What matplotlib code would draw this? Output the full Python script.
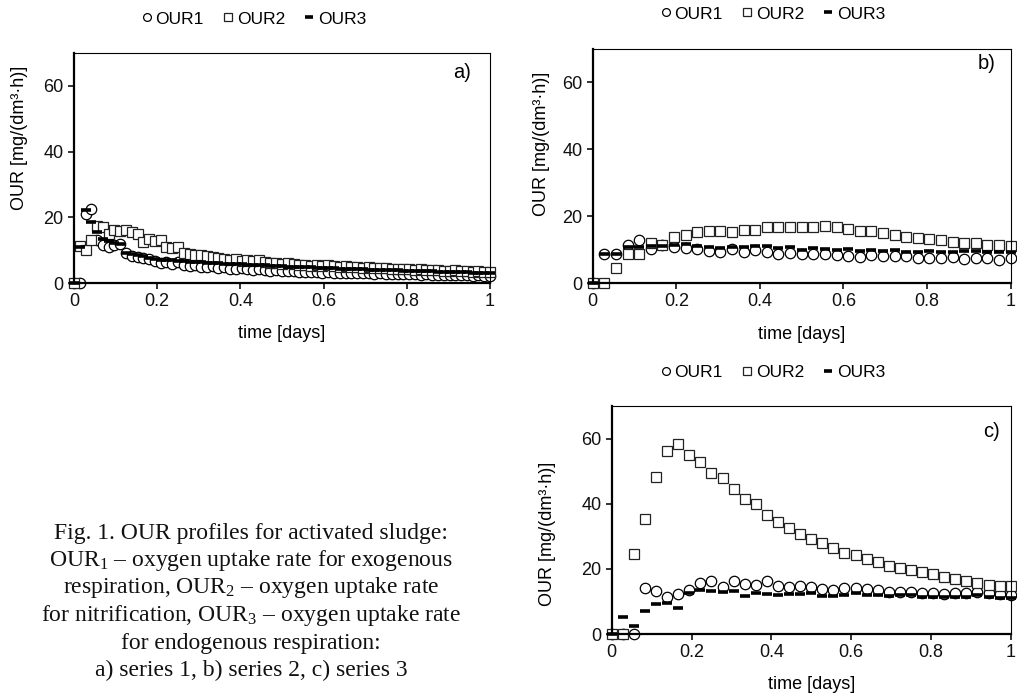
import numpy as np
import matplotlib.pyplot as plt

plt.rcParams['font.family'] = ['Liberation Sans', 'DejaVu Sans']
plt.rcParams['mathtext.fontset'] = 'custom'
plt.rcParams['mathtext.rm'] = 'Liberation Serif'

# series 1: every 20 min over one day
t_a = np.arange(73) / 72
our1_a = [0, 0, 21.0, 22.5, 13.0, 11.5, 11.0, 11.5, 12.0, 9.0, 8.2, 8.0, 7.6, 7.2, 6.8, 6.2,
          6.5, 5.8, 6.4, 5.6, 5.2, 5.5, 5.0, 4.8, 5.2, 4.6, 4.8, 4.4, 4.3, 4.5, 4.2, 4.1,
          4.2, 3.9, 3.8, 4.0, 3.7, 3.6, 3.8, 3.5, 3.4, 3.5, 3.3, 3.2, 3.4, 3.1, 3.2, 3.0,
          3.1, 2.9, 3.0, 2.9, 2.8, 3.0, 2.8, 2.7, 2.8, 2.6, 2.7, 2.6, 2.5, 2.6, 2.5, 2.4,
          2.5, 2.4, 2.3, 2.4, 2.3, 2.2, 2.3, 2.2, 2.2]
our2_a = [0, 11.2, 10.0, 13.2, 17.5, 17.0, 15.0, 16.0, 15.8, 16.2, 15.5, 14.8, 12.5, 13.5,
          12.8, 13.2, 11.0, 10.8, 11.0, 9.2, 8.8, 8.6, 8.5, 8.2, 7.9, 7.5, 7.3, 7.0, 7.2,
          6.8, 7.0, 6.6, 7.1, 6.4, 6.2, 6.0, 5.9, 6.1, 5.7, 5.6, 5.4, 5.3, 5.6, 5.2, 5.4,
          5.1, 5.0, 5.2, 4.9, 4.8, 4.7, 4.8, 4.6, 4.5, 4.7, 4.4, 4.3, 4.4, 4.2, 4.1, 4.3,
          4.0, 3.9, 4.0, 3.8, 3.7, 3.9, 3.6, 3.7, 3.5, 3.6, 3.4, 3.5]
our3_a = [0, 11.0, 22.3, 18.5, 15.5, 13.5, 12.8, 12.2, 11.8, 9.0, 8.8, 8.6, 8.3, 7.5, 7.3,
          7.1, 7.0, 6.9, 6.8, 6.6, 6.5, 6.4, 6.3, 6.2, 6.1, 6.0, 5.9, 5.8, 5.8, 5.7, 5.6,
          5.5, 5.5, 5.4, 5.3, 5.2, 5.1, 5.0, 5.0, 4.9, 4.8, 4.8, 4.7, 4.6, 4.6, 4.5, 4.4,
          4.4, 4.3, 4.3, 4.2, 4.1, 4.1, 4.0, 4.0, 3.9, 3.9, 3.8, 3.8, 3.7, 3.7, 3.6, 3.6,
          3.5, 3.5, 3.4, 3.4, 3.3, 3.3, 3.2, 3.2, 3.1, 3.1]

# series 2 and 3: every 40 min
t_bc = np.arange(37) / 36
our1_b = [0, 8.6, 8.6, 11.5, 12.9, 10.1, 11.3, 10.7, 10.5, 10.3, 9.6, 9.4, 10.1, 9.4, 9.8,
          9.2, 8.6, 9.0, 8.6, 8.6, 8.8, 8.4, 8.2, 7.8, 8.4, 8.0, 8.0, 8.0, 7.6, 7.6, 7.4,
          7.8, 7.2, 7.4, 7.4, 7.0, 7.6]
our2_b = [0, 0, 4.5, 8.6, 8.6, 12.1, 11.5, 13.7, 14.3, 15.4, 15.5, 15.7, 15.3, 15.8, 15.9,
          16.7, 16.7, 16.7, 16.7, 16.7, 17.1, 16.7, 16.3, 15.7, 15.5, 14.9, 14.3, 13.7, 13.5,
          13.1, 12.9, 12.3, 12.1, 11.9, 11.5, 11.5, 11.1]
our3_b = [0, 8.6, 8.6, 10.9, 10.7, 11.0, 11.2, 11.5, 11.6, 11.2, 10.8, 10.6, 10.9, 10.9,
          11.2, 11.0, 10.4, 10.7, 10.0, 10.4, 10.1, 9.8, 10.1, 9.6, 9.9, 9.5, 9.8, 9.4, 9.4,
          9.6, 9.4, 9.4, 9.5, 9.5, 9.3, 9.3, 9.3]

our1_c = [0, 0, 0, 14.1, 13.3, 11.5, 12.3, 13.6, 15.8, 16.4, 14.4, 16.4, 15.4, 15.0, 16.4,
          14.6, 14.4, 14.8, 14.4, 13.8, 13.6, 14.0, 14.0, 13.8, 13.6, 12.9, 12.9, 12.9, 12.7,
          12.5, 12.3, 12.5, 12.7, 12.9, 12.5, 12.3, 12.1]
our2_c = [0, 0, 24.7, 35.4, 48.3, 56.1, 58.2, 55.1, 52.8, 49.5, 47.9, 44.6, 41.5, 39.9, 36.6,
          34.5, 32.5, 30.6, 29.2, 28.0, 26.3, 24.9, 24.3, 23.0, 22.0, 21.0, 20.3, 19.7, 19.1,
          18.3, 17.5, 16.9, 16.4, 15.8, 15.2, 14.8, 14.6]
our3_c = [0, 5.3, 2.6, 7.0, 9.2, 9.5, 8.0, 12.5, 13.4, 13.1, 12.8, 13.1, 11.7, 12.5, 12.3,
          11.9, 12.2, 12.3, 12.5, 11.7, 11.7, 12.1, 12.5, 12.1, 12.1, 11.7, 11.9, 11.9, 11.3,
          11.3, 11.5, 11.3, 11.5, 11.9, 11.5, 11.1, 11.1]

fig = plt.figure(figsize=(10.17, 6.93), dpi=100)

panels = [
    ([0.0728, 0.5916, 0.409, 0.3319], t_a, our1_a, our2_a, our3_a, 'a)', (0.933, 0.917),
     (-0.111, 0.63), (0.2498, 0.9726)),
    ([0.5828, 0.5916, 0.411, 0.3377], t_bc, our1_b, our2_b, our3_b, 'b)', (0.943, 0.94),
     (-0.102, 0.596), (0.760, 0.9798)),
    ([0.6015, 0.0851, 0.3923, 0.329], t_bc, our1_c, our2_c, our3_c, 'c)', (0.952, 0.887),
     (-0.140, 0.44), (0.760, 0.4632)),
]

for rect, t, y1, y2, y3, tag, tagpos, ylpos, legpos in panels:
    ax = fig.add_axes(rect)
    ax.plot(t, y1, ls='none', marker='o', ms=7.5, mfc='white', mec='black', mew=0.9,
            clip_on=False, label='OUR1')
    ax.plot(t, y2, ls='none', marker='s', ms=7.5, mfc='white', mec='#222222', mew=0.9,
            clip_on=False, label='OUR2')
    ax.plot(t, y3, ls='none', marker='_', ms=7.5, mec='black', mew=2.6,
            clip_on=False, label='OUR3')
    ax.set_xlim(0, 1)
    ax.set_ylim(0, 70)
    ax.set_xticks([0, 0.2, 0.4, 0.6, 0.8, 1])
    ax.set_xticklabels(['0', '0.2', '0.4', '0.6', '0.8', '1'])
    ax.set_yticks([0, 20, 40, 60])
    ax.tick_params(direction='out', length=4, width=1.2, labelsize=13, colors='#111111')
    for s in ['left', 'bottom']:
        ax.spines[s].set_linewidth(1.6)
    for s in ['top', 'right']:
        ax.spines[s].set_linewidth(0.8)
    ax.set_xlabel('time [days]', fontsize=13)
    ax.xaxis.set_label_coords(0.5, -0.183)
    ax.set_ylabel('OUR [mg/(dm³·h)]', fontsize=13)
    ax.yaxis.set_label_coords(*ylpos)
    ax.text(tagpos[0], tagpos[1], tag, transform=ax.transAxes, fontsize=14.5,
            ha='center', va='center')
    h, l = ax.get_legend_handles_labels()
    fig.legend(h, l, loc='center', bbox_to_anchor=legpos, ncol=3, frameon=False,
               fontsize=12.5, markerscale=0.75, handlelength=0.6, handletextpad=0.2,
               columnspacing=1.1)

caption = [
    'Fig. 1. OUR profiles for activated sludge:',
    r'$\mathregular{OUR_1}$ – oxygen uptake rate for exogenous',
    r'respiration, $\mathregular{OUR_2}$ – oxygen uptake rate',
    r'for nitrification, $\mathregular{OUR_3}$ – oxygen uptake rate',
    'for endogenous respiration:',
    'a) series 1, b) series 2, c) series 3',
]
for i, line in enumerate(caption):
    fig.text(0.247, 1 - (533 + i * 27.5) / 693, line, family='Liberation Serif',
             fontsize=17, ha='center', va='center', color='#111111')

fig.savefig('out.png', dpi=100)
